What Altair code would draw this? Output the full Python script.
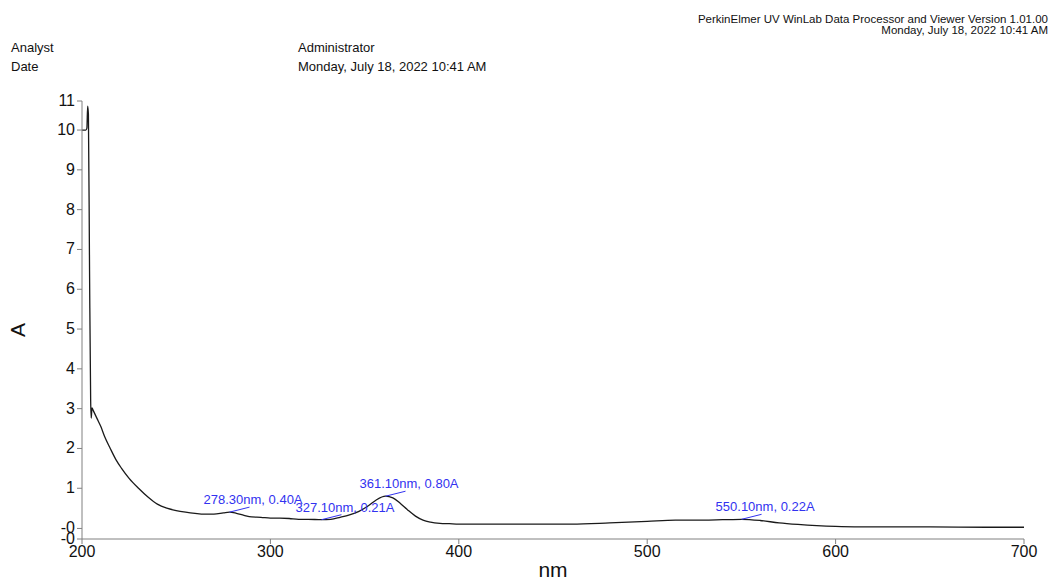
import altair as alt
import pandas as pd

# ---- spectrum data ----
wavelength_nm = [200, 201, 202, 202.6, 203.0, 203.4, 204.0, 204.6, 204.9, 205.3, 206, 208, 210, 212,
                 215, 218, 221, 225, 230, 235, 240, 245, 250, 255, 260, 265, 270, 275, 278.3, 282,
                 286, 290, 295, 300, 305, 310, 315, 320, 327.1, 332, 337, 342, 347, 352, 356, 361.1,
                 365, 369, 373, 377, 381, 385, 390, 395, 400, 420, 440, 460, 480, 500, 515, 530,
                 540, 550.1, 560, 570, 580, 590, 600, 610, 630, 650, 680, 700]
absorbance = [10.0, 10.0, 10.0, 10.05, 10.6, 10.4, 6.5, 3.2, 2.76, 3.02, 2.95, 2.75, 2.55, 2.3,
              2.0, 1.72, 1.5, 1.25, 1.0, 0.78, 0.6, 0.5, 0.44, 0.4, 0.37, 0.35, 0.35, 0.38, 0.40, 0.37,
              0.32, 0.28, 0.27, 0.25, 0.25, 0.24, 0.22, 0.22, 0.21, 0.22, 0.27, 0.33, 0.42, 0.56, 0.70, 0.80,
              0.76, 0.62, 0.45, 0.30, 0.20, 0.15, 0.12, 0.11, 0.10, 0.10, 0.10, 0.10, 0.13, 0.17, 0.20, 0.20,
              0.21, 0.22, 0.19, 0.13, 0.09, 0.06, 0.04, 0.03, 0.03, 0.03, 0.02, 0.02]

peak_nm = [278.3, 327.1, 361.1, 550.1]
peak_A = [0.40, 0.21, 0.80, 0.22]
peak_labels = [f"{n:.2f}nm, {a:.2f}A" for n, a in zip(peak_nm, peak_A)]

x_ticks = [200, 300, 400, 500, 600, 700]
x_tick_labels = ["200", "300", "400", "500", "600", "700"]
y_min, y_max = -0.275, 10.73
y_ticks = [y_min, -0.01, 1, 2, 3, 4, 5, 6, 7, 8, 9, 10, y_max]
y_tick_labels = ["-0", "-0", "1", "2", "3", "4", "5", "6", "7", "8", "9", "10", "11"]

header_right = ["PerkinElmer UV WinLab Data Processor and Viewer Version 1.01.00",
                "Monday, July 18, 2022 10:41 AM"]
header_left_keys = ["Analyst", "Date"]
header_left_vals = ["Administrator", "Monday, July 18, 2022 10:41 AM"]
x_title, y_title = "nm", "A"

FONT = "Liberation Sans"
W, H = 942, 438
AXIS_GRAY = "#808080"

spec = pd.DataFrame({"nm": wavelength_nm, "A": absorbance})
peaks = pd.DataFrame({"nm": peak_nm, "A": peak_A, "label": peak_labels})
xt = pd.DataFrame({"nm": x_ticks, "A": [y_min] * len(x_ticks), "label": x_tick_labels})
yt = pd.DataFrame({"nm": [200] * len(y_ticks), "A": y_ticks, "label": y_tick_labels})
frame = pd.DataFrame({"nm": [200], "nm_end": [700], "A": [y_min], "A_end": [y_max]})

x_scale = alt.Scale(domain=[200, 700], nice=False, zero=False)
y_scale = alt.Scale(domain=[y_min, y_max], nice=False, zero=False)
x_enc = alt.X("nm:Q", scale=x_scale, axis=None)
y_enc = alt.Y("A:Q", scale=y_scale, axis=None)

# axis lines (left and bottom), tick marks and tick labels
y_line = alt.Chart(frame).mark_rule(color=AXIS_GRAY, strokeWidth=1).encode(
    x=x_enc, y=y_enc, y2="A_end:Q")
x_line = alt.Chart(frame).mark_rule(color=AXIS_GRAY, strokeWidth=1).encode(
    x=x_enc, x2="nm_end:Q", y=y_enc)
x_tick_marks = alt.Chart(xt).mark_rule(color=AXIS_GRAY, strokeWidth=1, y2Offset=5).encode(
    x=x_enc, y=y_enc, y2="A:Q")
y_tick_marks = alt.Chart(yt).mark_rule(color=AXIS_GRAY, strokeWidth=1, x2Offset=-5).encode(
    x=x_enc, x2="nm:Q", y=y_enc)
x_tick_text = alt.Chart(xt).mark_text(font=FONT, fontSize=16, color="#111", align="center",
                                      baseline="top", dy=5).encode(
    x=x_enc, y=y_enc, text="label:N")
y_tick_text = alt.Chart(yt).mark_text(font=FONT, fontSize=16, color="#111", align="right",
                                      baseline="middle", dx=-7).encode(
    x=x_enc, y=y_enc, text="label:N")

line = alt.Chart(spec).mark_line(color="#1a1a1a", strokeWidth=1.3, interpolate="monotone").encode(
    x=x_enc, y=y_enc)

rules = alt.Chart(peaks).mark_rule(color="#3232f0", strokeWidth=1, x2Offset=20, y2Offset=-5).encode(
    x=x_enc, y=y_enc, x2="nm:Q", y2="A:Q")

labels = alt.Chart(peaks).mark_text(color="#3232f0", font=FONT, fontSize=13, align="left",
                                    baseline="middle", dx=-26, dy=-12).encode(
    x=x_enc, y=y_enc, text="label:N")


def free_text(text, x, y, align, size, baseline="middle", angle=0):
    return alt.Chart(pd.DataFrame({"t": [text]})).mark_text(
        font=FONT, fontSize=size, align=align, baseline=baseline, angle=angle,
        color="#111").encode(text="t:N", x=alt.value(x), y=alt.value(y))


texts = [
    free_text(header_right[0], 966, -81, "right", 11.5),
    free_text(header_right[1], 966, -70, "right", 11.5),
    free_text(header_left_keys[0], -71, -53, "left", 13),
    free_text(header_left_keys[1], -71, -34, "left", 13),
    free_text(header_left_vals[0], 216, -53, "left", 13),
    free_text(header_left_vals[1], 216, -34, "left", 13),
    free_text(x_title, 471, H + 38, "center", 21, baseline="alphabetic"),
    free_text(y_title, -63, 229, "center", 21, angle=270),
]

chart = alt.layer(line, rules, labels, y_line, x_line, x_tick_marks, y_tick_marks,
                  x_tick_text, y_tick_text, *texts).properties(
    width=W, height=H,
    autosize=alt.AutoSizeParams(type="none"),
    padding={"left": 82, "top": 101, "right": 27, "bottom": 41},
    background="white",
).configure_view(stroke=None)

chart.save("out.html", embed_options={"renderer": "svg", "actions": False})
